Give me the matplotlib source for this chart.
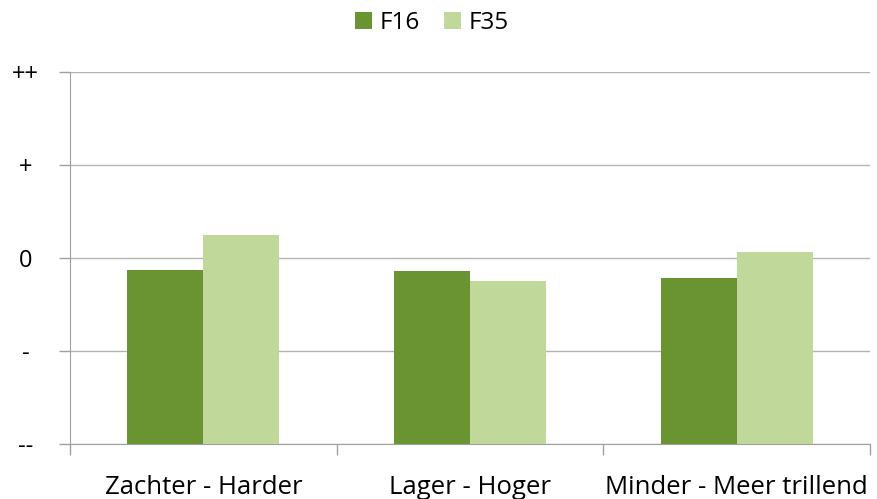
import matplotlib
matplotlib.use("Agg")
import matplotlib.pyplot as plt
import numpy as np

categories = ["Zachter - Harder", "Lager - Hoger", "Minder - Meer trillend"]
series_names = ["F16", "F35"]
f16 = [-0.13, -0.145, -0.21]
f35 = [0.245, -0.245, 0.065]
ytick_vals = [-2, -1, 0, 1, 2]
ytick_labels = ["--", "-", "0", "+", "++"]

plt.rcParams['font.family'] = ['Open Sans', 'DejaVu Sans']

fig = plt.figure(figsize=(8.78, 4.99), dpi=100)
ax = fig.add_axes([70/878, 1-444/499, 800/878, (444-72)/499])

x = np.arange(len(categories))
w = 0.285
base = -2
ax.bar(x - w/2, np.array(f16) - base, w, bottom=base, color="#6A9331", label=series_names[0], zorder=3)
ax.bar(x + w/2, np.array(f35) - base, w, bottom=base, color="#C0D99B", label=series_names[1], zorder=3)

ax.set_xlim(-0.5, 2.5)
ax.set_ylim(-2, 2)
ax.set_yticks(ytick_vals)
ax.set_yticklabels(ytick_labels, fontsize=17)
ax.yaxis.grid(True, color="#B3B3B3", linewidth=1, zorder=0)
ax.set_xticks(x)
ax.set_xticklabels(categories, fontsize=18.5)
ax.tick_params(axis='x', length=0, pad=22)
ax.set_xticks([-0.5, 0.5, 1.5, 2.5], minor=True)
ax.tick_params(axis='x', which='minor', length=8, color="#A0A0A0", width=1)
ax.tick_params(axis='y', length=8, color="#A0A0A0", width=1, pad=24)
for lbl in ax.get_yticklabels():
    lbl.set_horizontalalignment('center')

for s in ['top', 'right']:
    ax.spines[s].set_visible(False)
ax.spines['left'].set_color("#A0A0A0")
ax.spines['bottom'].set_color("#A0A0A0")

leg = fig.legend(loc='center', bbox_to_anchor=(432/878, 1-23/499), ncol=2, frameon=False,
                 fontsize=17.5, handlelength=0.7, handleheight=0.7, handletextpad=0.3, columnspacing=1.0)

fig.savefig("out.png", dpi=100)
